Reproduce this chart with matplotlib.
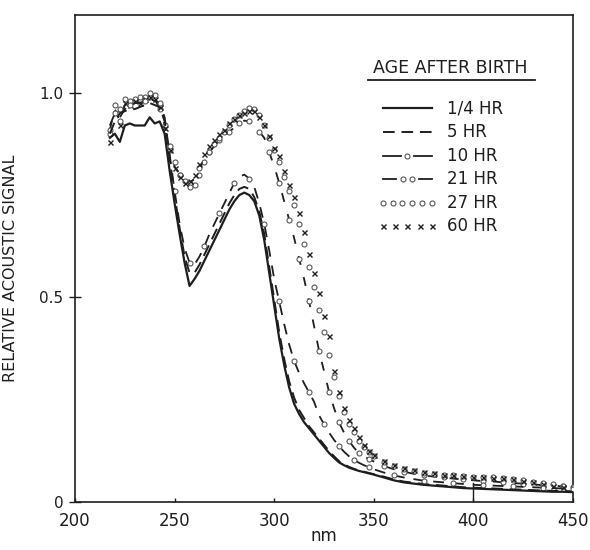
import matplotlib
matplotlib.use("Agg")
import matplotlib.pyplot as plt
import numpy as np

plt.rcParams.update({
    "font.family": "DejaVu Sans",
    "font.size": 11,
    "axes.linewidth": 1.2,
})

INK = "#1e1e1e"

# wavelength grid (nm)
wl = [217.5, 220, 222.5, 225, 227.5, 230, 232.5, 235, 237.5, 240, 242.5, 245,
      247.5, 250, 252.5, 255, 257.5, 260, 262.5, 265, 267.5, 270, 272.5, 275,
      277.5, 280, 282.5, 285, 287.5, 290, 292.5, 295, 297.5, 300, 302.5, 305,
      307.5, 310, 312.5, 315, 317.5, 320, 322.5, 325, 327.5, 330, 332.5, 335,
      337.5, 340, 342.5, 345, 347.5, 350, 355, 360, 365, 370, 375, 380, 385,
      390, 395, 400, 405, 410, 415, 420, 425, 430, 435, 440, 445, 450]

hr_quarter = [0.89, 0.90, 0.88, 0.92, 0.925, 0.92, 0.92, 0.92, 0.94, 0.925, 0.93, 0.90,
              0.81, 0.73, 0.655, 0.585, 0.528, 0.545, 0.565, 0.59, 0.615, 0.64, 0.665, 0.69,
              0.715, 0.735, 0.75, 0.756, 0.75, 0.735, 0.70, 0.64, 0.56, 0.48, 0.40, 0.335,
              0.28, 0.24, 0.215, 0.195, 0.18, 0.165, 0.15, 0.135, 0.12, 0.108, 0.097, 0.09,
              0.084, 0.08, 0.076, 0.073, 0.07, 0.067, 0.060, 0.053, 0.048, 0.045, 0.042, 0.040, 0.038,
              0.036, 0.034, 0.033, 0.032, 0.031, 0.030, 0.029, 0.028, 0.027, 0.026, 0.025, 0.025, 0.024]

hr_5 = [0.90, 0.93, 0.95, 0.955, 0.96, 0.96, 0.965, 0.97, 0.975, 0.97, 0.965, 0.93,
        0.84, 0.75, 0.67, 0.60, 0.56, 0.56, 0.58, 0.605, 0.63, 0.655, 0.68, 0.705,
        0.73, 0.75, 0.765, 0.77, 0.765, 0.745, 0.71, 0.655, 0.575, 0.495, 0.415, 0.35,
        0.295, 0.255, 0.225, 0.205, 0.185, 0.17, 0.155, 0.14, 0.125, 0.112, 0.10, 0.092,
        0.086, 0.081, 0.077, 0.074, 0.071, 0.068, 0.062, 0.055, 0.050, 0.047, 0.044, 0.042, 0.040,
        0.038, 0.036, 0.035, 0.034, 0.033, 0.032, 0.031, 0.030, 0.029, 0.028, 0.027, 0.027, 0.026]

hr_10 = [0.92, 0.95, 0.94, 0.96, 0.97, 0.975, 0.975, 0.98, 0.985, 0.98, 0.975, 0.94,
         0.85, 0.76, 0.68, 0.62, 0.585, 0.58, 0.60, 0.625, 0.655, 0.68, 0.705, 0.73,
         0.755, 0.78, 0.795, 0.80, 0.79, 0.77, 0.73, 0.68, 0.615, 0.545, 0.49, 0.435,
         0.385, 0.345, 0.315, 0.29, 0.268, 0.245, 0.212, 0.19, 0.17, 0.152, 0.137, 0.123,
         0.112, 0.103, 0.096, 0.09, 0.085, 0.08, 0.072, 0.065, 0.060, 0.056, 0.052, 0.050, 0.048,
         0.046, 0.044, 0.042, 0.041, 0.040, 0.039, 0.038, 0.037, 0.036, 0.035, 0.034, 0.033, 0.032]

hr_21 = [0.91, 0.96, 0.93, 0.97, 0.975, 0.98, 0.98, 0.985, 0.99, 0.985, 0.96, 0.92,
         0.86, 0.82, 0.80, 0.785, 0.78, 0.79, 0.815, 0.835, 0.855, 0.87, 0.885, 0.895,
         0.905, 0.915, 0.925, 0.932, 0.93, 0.92, 0.905, 0.89, 0.855, 0.82, 0.78, 0.735,
         0.69, 0.645, 0.595, 0.545, 0.49, 0.43, 0.37, 0.32, 0.27, 0.23, 0.195, 0.17,
         0.15, 0.133, 0.12, 0.112, 0.105, 0.099, 0.088, 0.080, 0.074, 0.069, 0.065, 0.062, 0.060,
         0.057, 0.055, 0.053, 0.051, 0.050, 0.048, 0.046, 0.045, 0.043, 0.041, 0.040, 0.038, 0.037]

hr_27 = [0.90, 0.97, 0.96, 0.985, 0.98, 0.985, 0.99, 0.99, 1.00, 0.995, 0.97, 0.92,
         0.87, 0.83, 0.80, 0.785, 0.77, 0.775, 0.80, 0.83, 0.855, 0.875, 0.89, 0.905,
         0.92, 0.935, 0.945, 0.955, 0.962, 0.96, 0.945, 0.92, 0.89, 0.86, 0.83, 0.795,
         0.76, 0.725, 0.68, 0.63, 0.575, 0.525, 0.47, 0.415, 0.36, 0.305, 0.26, 0.22,
         0.19, 0.17, 0.15, 0.135, 0.122, 0.112, 0.098, 0.088, 0.081, 0.076, 0.072, 0.069, 0.067,
         0.066, 0.064, 0.062, 0.061, 0.060, 0.058, 0.056, 0.053, 0.050, 0.046, 0.043, 0.040, 0.036]

hr_60 = [0.88, 0.95, 0.92, 0.975, 0.97, 0.98, 0.975, 0.985, 0.99, 0.985, 0.965, 0.915,
         0.86, 0.815, 0.795, 0.78, 0.785, 0.80, 0.825, 0.85, 0.87, 0.885, 0.90, 0.91,
         0.925, 0.935, 0.945, 0.95, 0.955, 0.955, 0.94, 0.92, 0.895, 0.865, 0.845, 0.81,
         0.775, 0.745, 0.705, 0.66, 0.605, 0.56, 0.51, 0.455, 0.405, 0.32, 0.27, 0.23,
         0.20, 0.18, 0.16, 0.14, 0.125, 0.115, 0.10, 0.09, 0.083, 0.078, 0.074, 0.070, 0.067,
         0.065, 0.063, 0.062, 0.060, 0.059, 0.058, 0.055, 0.052, 0.048, 0.044, 0.040, 0.036, 0.034]

labels = ["1/4 HR", "5 HR", "10 HR", "21 HR", "27 HR", "60 HR"]
xticks = [200, 250, 300, 350, 400, 450]
yticks = [0, 0.5, 1.0]
ytick_labels = ["0", "0.5", "1.0"]

fig = plt.figure(figsize=(5.9, 5.5), dpi=100)
ax = fig.add_axes([75 / 590, 48 / 550, 498 / 590, 487 / 550])

x = np.array(wl)
circ = dict(marker="o", ms=3.6, mfc="white", mec="#555", mew=0.8)

ax.plot(x, hr_quarter, color=INK, lw=1.6, zorder=5)
ax.plot(x, hr_5, color=INK, lw=1.4, dashes=(6, 3.5), zorder=4)
ax.plot(x, hr_10, color=INK, lw=1.3, dashes=(6, 5), zorder=4)
ax.plot(x, hr_10, ls="none", markevery=(1, 3), **circ, zorder=4)
ax.plot(x, hr_21, color=INK, lw=1.3, dashes=(5, 7), zorder=3)
ax.plot(x, hr_21, ls="none", markevery=(0, 2), **circ, zorder=3)
ax.plot(x, hr_27, ls="none", **circ, zorder=3)
ax.plot(x, hr_60, ls="none", marker="x", ms=3.6, mec=INK, mew=1.0, zorder=3)

# longer mark at 400 nm on the baseline
ax.axvline(400, ymax=0.04, color=INK, lw=1.0)

ax.set_xlim(200, 450)
ax.set_ylim(0, 1.19)
ax.set_xticks(xticks)
ax.set_yticks(yticks)
ax.set_yticklabels(ytick_labels)
ax.tick_params(axis="x", direction="in", length=3, width=1.0, pad=7,
               labelsize=12, colors=INK)
ax.tick_params(axis="y", direction="inout", length=9, width=1.0, pad=4,
               labelsize=11, colors=INK)
for s in ax.spines.values():
    s.set_color(INK)

ax.set_xlabel("nm", fontsize=12, color=INK)
ax.xaxis.set_label_coords(0.5, -0.052)
ax.set_ylabel("RELATIVE ACOUSTIC SIGNAL", fontsize=11.5, color=INK)
ax.yaxis.set_label_coords(-0.114, 0.48)

# hand-drawn style legend
tr = ax.transAxes
ax.text(0.753, 0.891, "AGE AFTER BIRTH", transform=tr, ha="center", va="center",
        fontsize=12.5, color=INK)
ax.plot([0.588, 0.924], [0.867, 0.867], transform=tr, color=INK, lw=1.3)

rows = [0.809, 0.760, 0.710, 0.663, 0.614, 0.567]
x0, x1 = 0.618, 0.717
ax.plot([x0, x1], [rows[0]] * 2, transform=tr, color=INK, lw=1.6)
ax.plot([x0, x1], [rows[1]] * 2, transform=tr, color=INK, lw=1.4, dashes=(6, 3.5))
ax.plot([x0, 0.655], [rows[2]] * 2, transform=tr, color=INK, lw=1.3)
ax.plot([0.680, x1], [rows[2]] * 2, transform=tr, color=INK, lw=1.3)
ax.plot([0.667], [rows[2]], transform=tr, **circ)
ax.plot([x0, 0.645], [rows[3]] * 2, transform=tr, color=INK, lw=1.3)
ax.plot([0.690, x1], [rows[3]] * 2, transform=tr, color=INK, lw=1.3)
ax.plot([0.659, 0.676], [rows[3]] * 2, transform=tr, ls="none", **circ)
ax.plot(np.linspace(x0, x1, 6), [rows[4]] * 6, transform=tr, ls="none", **circ)
ax.plot(np.linspace(x0, x1, 5), [rows[5]] * 5, transform=tr, ls="none",
        marker="x", ms=3.6, mec=INK, mew=1.0)
for yy, lab in zip(rows, labels):
    ax.text(0.747, yy, lab, transform=tr, ha="left", va="center",
            fontsize=12, color=INK)

fig.savefig("out.png", dpi=100)
